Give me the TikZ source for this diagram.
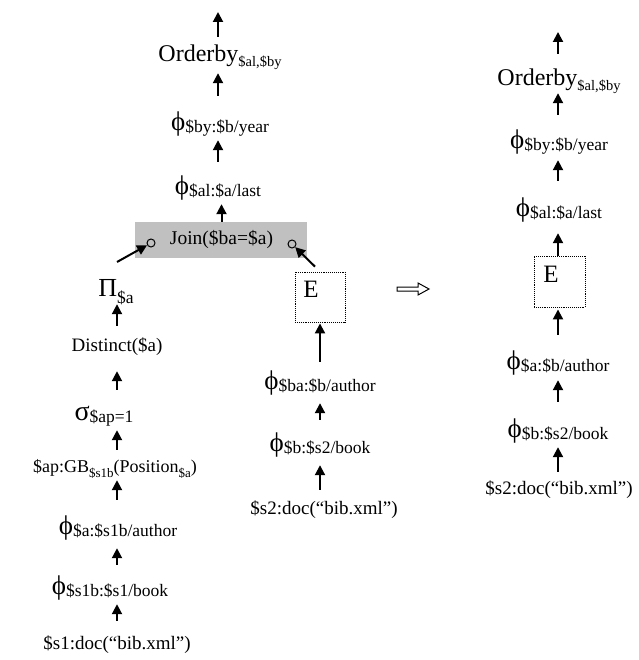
\documentclass[tikz,border=0pt]{standalone}
\usepackage{fontspec}
\setmainfont{Liberation Serif}
\usetikzlibrary{arrows.meta,calc}

\definecolor{joingray}{RGB}{192,192,192}

% font sizes: base text, large operator symbols, their subscripts
\newcommand{\fbase}{\fontsize{19}{19}\selectfont}
\newcommand{\fbig}{\fontsize{24}{24}\selectfont}
\newcommand{\fphi}{\fontsize{27}{27}\selectfont}
\newcommand{\fsub}{\fontsize{17.5}{17.5}\selectfont}
\newcommand{\fsmall}{\fontsize{14.5}{14.5}\selectfont}
\newcommand{\fgb}{\fontsize{18}{18}\selectfont}
\newcommand{\fgbsub}{\fontsize{13}{13}\selectfont}

% phi operator with a lowered subscript
\newcommand{\phiop}[1]{{\fphi ϕ}{\fsub\raisebox{-2pt}{#1}}}
\newcommand{\orderop}{{\fbig Orderby}{\fsmall\raisebox{-5pt}{\$al,\$by}}}
% upward data-flow arrow from a lower node to an upper node in column #3
\newcommand{\conn}[5]{\draw[uparrow,shorten <=#4pt,shorten >=#5pt]
  (#1.north -| #3) -- (#2.south -| #3);}

\begin{document}
\begin{tikzpicture}[x=1pt,y=-1pt,
  lbl/.style={inner sep=0pt,font=\fbase,text height=14pt,text depth=6pt},
  uparrow/.style={line width=2pt,-{Triangle[length=10pt,width=10pt]}},
  ebox/.style={draw,densely dotted,line width=0.9pt,minimum width=50pt,
    minimum height=50pt,inner sep=0pt},
  port/.style={circle,draw,line width=1pt,minimum size=8pt,inner sep=0pt}]
\useasboundingbox (0,0) rectangle (638,660);

% ---------------- left plan ----------------
\coordinate (cT) at (218,0);
\coordinate (cA) at (117,0);
\coordinate (cB) at (320,0);

\node[lbl] (ob1) at (220,58) {\orderop};
\coordinate (top1) at (218,12);
\node[lbl] (p1) at (220,127) {\phiop{\$by:\$b/year}};
\node[lbl] (p2) at (218,190) {\phiop{\$al:\$a/last}};

\node[fill=joingray,minimum width=172pt,minimum height=36pt,inner sep=0pt]
  (join) at (221,240) {};
\node[lbl,font=\fontsize{19.5}{19.5}\selectfont] (jointxt) at (221.5,240) {Join(\$ba=\$a)};
\node[port] (circL) at (151,243) {};
\node[port] (circR) at (292,244) {};

\node[lbl] (pi) at (116,292) {{\fontsize{26}{26}\selectfont Π}{\fsub\raisebox{-7pt}{\$a}}};
\coordinate (piout) at (117,262);
\node[lbl] (dist) at (117,347) {Distinct(\$a)};
\node[lbl] (sig) at (104,416) {{\fontsize{28}{28}\selectfont σ}{\fsub\raisebox{-2pt}{\$ap=1}}};
\node[lbl,font=\fgb] (gb) at (115,468)
  {\$ap:GB{\fgbsub\raisebox{-5pt}{\$s1b}}(Position{\fgbsub\raisebox{-5pt}{\$a}})};
\node[lbl] (p3) at (118,530) {\phiop{\$a:\$s1b/author}};
\node[lbl] (p4) at (110,590) {\phiop{\$s1b:\$s1/book}};
\node[lbl] (doc1) at (117,645) {\$s1:doc(“bib.xml”)};

\node[ebox] (e1) at (320,297) {};
\node[lbl,font=\fontsize{25}{25}\selectfont] at (311,293) {E};
\node[lbl] (p5) at (320,385) {\phiop{\$ba:\$b/author}};
\node[lbl] (p6) at (320,447) {\phiop{\$b:\$s2/book}};
\node[lbl] (doc2) at (324,510) {\$s2:doc(“bib.xml”)};

\draw[uparrow,shorten <=11pt] (ob1.north -| cT) -- (top1);
\conn{p1}{ob1}{cT}{21}{5}
\conn{p2}{p1}{cT}{18}{3}
\conn{join}{p2}{jointxt}{0}{4}
\draw[uparrow] (piout) -- (circL);
\draw[uparrow,shorten <=7pt] (e1.north) -- (circR);
\conn{dist}{pi}{cA}{11}{2}
\conn{sig}{dist}{cA}{16}{14}
\conn{gb}{sig}{cA}{8}{4}
\conn{p3}{gb}{cA}{20}{2}
\conn{p4}{p3}{cA}{15}{8}
\conn{doc1}{p4}{cA}{14}{4}
\conn{p5}{e1}{cB}{13}{1}
\conn{p6}{p5}{cB}{17}{8}
\conn{doc2}{p6}{cB}{10}{8}

% rewrite arrow
\draw[line width=1pt,fill=white,line join=miter]
  (397,287) -- (418,287) -- (418,283) -- (429,289) -- (418,295) -- (418,291)
  -- (397,291) -- cycle;

% ---------------- rewritten plan ----------------
\coordinate (cR) at (558,0);
\coordinate (top2) at (558,32);
\node[lbl] (ob2) at (559,82) {\orderop};
\node[lbl] (p7) at (559,145) {\phiop{\$by:\$b/year}};
\node[lbl] (p8) at (559,212) {\phiop{\$al:\$a/last}};
\node[ebox,minimum width=51pt,minimum height=51pt] (e2) at (559.5,281.5) {};
\node[lbl,font=\fontsize{25}{25}\selectfont] at (551,278) {E};
\node[lbl] (p9) at (558,365) {\phiop{\$a:\$b/author}};
\node[lbl] (p10) at (558,433) {\phiop{\$b:\$s2/book}};
\node[lbl] (doc3) at (559,490) {\$s2:doc(“bib.xml”)};

\draw[uparrow,shorten <=18pt] (ob2.north -| cR) -- (top2);
\conn{p7}{ob2}{cR}{20}{1}
\conn{p8}{p7}{cR}{21}{5}
\conn{e2}{p8}{cR}{0}{11}
\conn{p9}{e2}{cR}{20}{2}
\conn{p10}{p9}{cR}{21}{5}
\conn{doc3}{p10}{cR}{8}{4}
\end{tikzpicture}
\end{document}
